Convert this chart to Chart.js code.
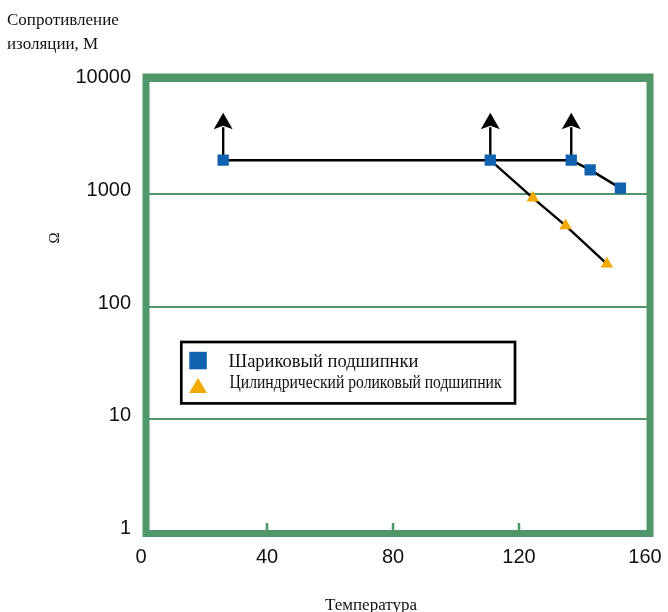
<!DOCTYPE html>
<html lang="ru">
<head>
<meta charset="utf-8">
<title>Сопротивление изоляции подшипников</title>
<script src="https://cdn.jsdelivr.net/npm/chart.js@4/dist/chart.umd.min.js"></script>
<style>
  html, body { margin: 0; padding: 0; background: #fff; }
  #wrap { position: relative; width: 668px; height: 612px; }
</style>
</head>
<body>
<div id="wrap"><canvas id="chart"></canvas></div>
<script>
// Insulation resistance vs temperature for two bearing types.
// Log y axis (1 … 10000), linear x axis (0 … 160), green frame, boxed legend.

// ── Data ─────────────────────────────────────────────────────────────────────
const ballLabel   = "Шариковый подшипнки";
const ballTemp    = [24.5, 109.3, 135.0, 141.0, 150.6];
const ballRes     = [2000, 2000, 2000, 1640, 1130];
const ballAbove   = [true, true, true, false, false];   // value is "more than" -> arrow up

const rollerLabel = "Цилиндрический роликовый подшипник";
const rollerTemp  = [109.3, 122.8, 133.2, 146.3];
const rollerRes   = [2000, 925, 525, 240];
const rollerMark  = [false, true, true, true];          // first point shared with ball curve

const xTicks     = [0, 40, 80, 120, 160];
const xInnerTick = [40, 80, 120];
const yTicks     = [1, 10, 100, 1000, 10000];

const titleLines = ["Сопротивление", "изоляции, М"];
const xTitle     = "Температура";
const yUnit      = "Ω";

// ── Style ────────────────────────────────────────────────────────────────────
const GREEN  = "#4f976a";
const BLUE   = "#1062b0";
const ORANGE = "#f2a900";
const INK    = "#111111";
const SANS   = "'Liberation Sans', Arial, sans-serif";
const SERIF  = "'Liberation Serif', 'Times New Roman', serif";

// Frame, inner x ticks and "more than" arrows, drawn under the markers
const framePlugin = {
  id: "frame",
  beforeDatasetsDraw(chart) {
    const { ctx, chartArea: a, scales: { x, y } } = chart;
    ctx.save();

    // short inner ticks on the bottom edge, lined up with their labels
    ctx.strokeStyle = GREEN;
    ctx.lineWidth = 2.5;
    xInnerTick.forEach(v => {
      const px = x.getPixelForValue(v) + x.options.ticks.labelOffset;
      ctx.beginPath();
      ctx.moveTo(px, a.bottom + 1);
      ctx.lineTo(px, a.bottom - 9);
      ctx.stroke();
    });

    // thick frame
    ctx.lineWidth = 7;
    ctx.lineJoin = "miter";
    ctx.strokeRect(a.left, a.top - 4.5, a.right - a.left, a.bottom - a.top + 6);

    // arrows
    ctx.strokeStyle = "#000";
    ctx.fillStyle = "#000";
    ctx.lineWidth = 2.4;
    ballTemp.forEach((t, i) => {
      if (!ballAbove[i]) return;
      const px = x.getPixelForValue(t);
      const py = y.getPixelForValue(ballRes[i]);
      ctx.beginPath();
      ctx.moveTo(px, py);
      ctx.lineTo(px, py - 33);
      ctx.stroke();
      ctx.beginPath();
      ctx.moveTo(px, py - 47.5);
      ctx.lineTo(px + 9.5, py - 31);
      ctx.lineTo(px, py - 34.5);
      ctx.lineTo(px - 9.5, py - 31);
      ctx.closePath();
      ctx.fill();
    });
    ctx.restore();
  },
};

// Boxed legend inside the plot, rotated unit label and x title
const labelsPlugin = {
  id: "labels",
  afterDraw(chart) {
    const { ctx } = chart;
    const ds = chart.data.datasets;
    ctx.save();

    // legend box
    ctx.fillStyle = "#fff";
    ctx.fillRect(181.3, 342, 333.7, 61.4);
    ctx.strokeStyle = "#000";
    ctx.lineWidth = 2.7;
    ctx.strokeRect(181.3, 342, 333.7, 61.4);

    ctx.fillStyle = ds[0].pointBackgroundColor;
    ctx.fillRect(189.3, 351.8, 17.5, 17.5);

    ctx.fillStyle = ds[1].pointBackgroundColor;
    ctx.beginPath();
    ctx.moveTo(198, 378);
    ctx.lineTo(207, 393);
    ctx.lineTo(189, 393);
    ctx.closePath();
    ctx.fill();

    ctx.fillStyle = INK;
    ctx.font = "18.5px " + SERIF;
    ctx.textAlign = "left";
    ctx.textBaseline = "alphabetic";
    ctx.fillText(ds[0].label, 228.5, 367.3);
    ctx.fillText(ds[1].label, 229.5, 387.7, 272);

    // x axis title
    ctx.font = "17px " + SERIF;
    ctx.textAlign = "center";
    ctx.fillText(xTitle, 371, 610);

    // rotated unit on the y side
    ctx.translate(55.5, 238);
    ctx.rotate(-Math.PI / 2);
    ctx.font = "15px " + SERIF;
    ctx.textBaseline = "middle";
    ctx.fillText(yUnit, 0, 0);
    ctx.restore();
  },
};

const toPoints = (xs, ys) => xs.map((v, i) => ({ x: v, y: ys[i] }));

new Chart(document.getElementById("chart"), {
  type: "line",
  data: {
    datasets: [
      {
        label: ballLabel,
        data: toPoints(ballTemp, ballRes),
        borderColor: "#000",
        borderWidth: 2.4,
        pointStyle: "rect",
        pointRadius: 8,
        pointBorderWidth: 0,
        pointBackgroundColor: BLUE,
        tension: 0,
      },
      {
        label: rollerLabel,
        data: toPoints(rollerTemp, rollerRes),
        borderColor: "#000",
        borderWidth: 2.4,
        pointStyle: "triangle",
        pointRadius: rollerMark.map(m => (m ? 7.2 : 0)),
        pointBorderWidth: 0,
        pointBackgroundColor: ORANGE,
        tension: 0,
      },
    ],
  },
  options: {
    responsive: true,
    maintainAspectRatio: false,
    animation: false,
    layout: { padding: { left: 7, right: 18, top: 0, bottom: 0 } },
    plugins: {
      legend: { display: false },
      tooltip: { enabled: false },
      title: {
        display: true,
        text: titleLines,
        position: "top",
        align: "start",
        color: INK,
        font: { family: SERIF, size: 17, weight: "normal", lineHeight: 1.37 },
        padding: { top: 9.35, bottom: 25.55 },
      },
    },
    scales: {
      x: {
        type: "linear",
        min: 0,
        max: 160,
        afterBuildTicks: s => { s.ticks = xTicks.map(v => ({ value: v })); },
        afterFit: s => {
          s.height = 80;
          s.paddingLeft = 0;
          s.paddingRight = 0;
        },
        grid: { display: false, drawTicks: false },
        border: { display: false },
        ticks: {
          padding: 13.5,
          labelOffset: -5,
          autoSkip: false,
          maxRotation: 0,
          color: INK,
          font: { family: SANS, size: 20 },
        },
      },
      y: {
        type: "logarithmic",
        min: 1,
        max: 10000,
        afterBuildTicks: s => { s.ticks = yTicks.map(v => ({ value: v })); },
        afterFit: s => { s.width = 139; },
        grid: { color: GREEN, lineWidth: 2, drawTicks: false },
        border: { display: false },
        ticks: {
          padding: 15,
          labelOffset: -3.5,
          autoSkip: false,
          color: INK,
          font: { family: SANS, size: 20 },
          callback: v => String(v),
        },
      },
    },
  },
  plugins: [framePlugin, labelsPlugin],
});
</script>
</body>
</html>
